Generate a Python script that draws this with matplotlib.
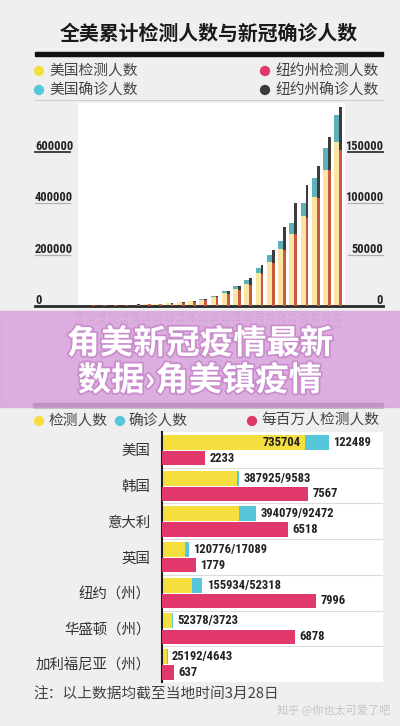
import os
import matplotlib
matplotlib.use('Agg')
import matplotlib.pyplot as plt
from matplotlib import font_manager
from matplotlib.font_manager import FontProperties
from matplotlib.textpath import TextPath
from matplotlib.patches import Rectangle
import matplotlib.patheffects as pe

plt.rcParams['font.family'] = ['Noto Sans CJK SC', 'DejaVu Sans']

# top chart: cumulative tests / confirmed, US (left axis) and New York (right axis)
dates = ['3.4', '3.5', '3.6', '3.7', '3.8', '3.9', '3.10', '3.11', '3.12', '3.13', '3.14', '3.15',
         '3.16', '3.17', '3.18', '3.19', '3.20', '3.21', '3.22', '3.23', '3.24', '3.25', '3.26', '3.27']
us_tests = [1600, 2000, 2400, 3100, 3900, 4700, 5900, 7800, 11000, 13700, 17600, 23500,
            35000, 51000, 67000, 86000, 129000, 173000, 224000, 282000, 349000, 424000, 529000, 639000]
us_confirmed = [200, 250, 300, 400, 500, 600, 800, 1000, 1200, 1500, 1900, 2400,
                3900, 5900, 9800, 15700, 19600, 27000, 31000, 43000, 51000, 74500, 86000, 106000]
ny_tests = [400, 500, 600, 800, 1000, 1200, 1500, 1800, 2400, 2900, 3900, 5400,
            8300, 11800, 15700, 20600, 31400, 42000, 55000, 70000, 86000, 105000, 132000, 152000]
ny_confirmed = [100, 100, 150, 200, 250, 300, 400, 500, 600, 800, 1000, 1200,
                1500, 2400, 3900, 6900, 8800, 12700, 21500, 30000, 32000, 31000, 33000, 42000]
left_ticks = [0, 200000, 400000, 600000]
right_ticks = [0, 50000, 100000, 150000]

# bottom chart: by region
regions = ['美国', '韩国', '意大利', '英国', '纽约（州）', '华盛顿（州）', '加利福尼亚（州）']
tests = [735704, 387925, 394079, 120776, 155934, 52378, 25192]
confirmed = [122489, 9583, 92472, 17089, 52318, 3723, 4643]
per_million = [2233, 7567, 6518, 1779, 7996, 6878, 637]

W, H = 400, 726
BG = '#efefef'
YEL_T, TEAL_T, RED_T, DARK_T = '#fbe5a4', '#5eb0ba', '#c85a42', '#3c3c3c'
YEL, TEAL, PINK, DARK = '#f5df3e', '#56c6da', '#e0386a', '#3a3a3a'


def find_narrow_bold():
    files = [f.fname for f in font_manager.fontManager.ttflist]
    prefs = ['liberationsansnarrow-bold.', 'robotocondensed-bold.', 'dejavusanscondensed-bold.',
             'opensans_condensed-bold.', 'opensanscondensed-bold.', 'opensans-condensedbold.']
    for p in prefs:
        for fn in files:
            if os.path.basename(fn).lower().startswith(p):
                return fn
    for fn in files:
        b = os.path.basename(fn).lower()
        if ('narrow' in b or 'condensed' in b) and 'bold' in b and 'italic' not in b and 'oblique' not in b:
            return fn
    return None


_nf = find_narrow_bold()


def num_font(px_per_digit):
    # size the number font so a digit is about px_per_digit wide
    if _nf:
        base = FontProperties(fname=_nf, size=10)
    else:
        base = FontProperties(family='Roboto', weight='bold', size=10)
    w = TextPath((0, 0), '0000000000', prop=base).get_extents().width / 10
    size = min(10 * px_per_digit * 0.72 / w, 10.5)
    p = base.copy()
    p.set_size(size)
    return p


NUM_TOP = num_font(6.2)
NUM_BOT = num_font(6.3)


def rect(x0, y0, x1, y1):
    return [x0 / W, 1 - y1 / H, (x1 - x0) / W, (y1 - y0) / H]


fig = plt.figure(figsize=(4, 7.26), dpi=100, facecolor=BG)

# background layer in pixel coordinates
bg = fig.add_axes([0, 0, 1, 1], zorder=0)
bg.set_xlim(0, W)
bg.set_ylim(H, 0)
bg.axis('off')
bg.set_facecolor(BG)

bg.text(209, 33, '全美累计检测人数与新冠确诊人数', ha='center', va='center',
        fontsize=14.3, fontweight='bold', color='#1a1a1a')
bg.add_patch(Rectangle((35, 52), 348, 4, color='#111111'))
bg.plot([35, 383], [100, 100], color='#cfcfcf', lw=0.8)

for x, y, c, t in [(39, 71, YEL, '美国检测人数'), (39, 90, TEAL, '美国确诊人数'),
                   (265, 71, PINK, '纽约州检测人数'), (265, 90, DARK, '纽约州确诊人数')]:
    bg.scatter([x], [y], s=55, color=c, edgecolors='none')
    bg.text(x + 10, y, t, ha='left', va='center', fontsize=10.6, color='#444444')

# top chart
ax = fig.add_axes(rect(78, 103, 345, 306), zorder=1)
ax.set_facecolor('white')
x = list(range(len(dates)))
xr = [i + 0.27 for i in x]
ax.bar(x, us_tests, width=0.62, color=YEL_T, zorder=2)
ax.bar(x, us_confirmed, bottom=us_tests, width=0.62, color=TEAL_T, zorder=2)
ax.set_xlim(-0.09, 23.64)
ax.set_ylim(0, 790900)
ax.set_xticks([i + 0.12 for i in x])
ax.set_xticklabels(dates, rotation=90, fontsize=6, color='#8a8a8a', va='top',
                   family='DejaVu Sans')
ax.tick_params(axis='x', length=0, pad=3)
ax.set_yticks([])
for s in ax.spines.values():
    s.set_visible(False)

ax2 = ax.twinx()
ax2.bar(xr, ny_tests, width=0.24, color=RED_T, zorder=3)
ax2.bar(xr, ny_confirmed, bottom=ny_tests, width=0.24, color=DARK_T, zorder=3)
ax2.set_ylim(0, 197700)
ax2.set_yticks([])
for s in ax2.spines.values():
    s.set_visible(False)


def fx(px):
    return (px - 78) / 267


tr = ax.get_yaxis_transform()
for v in left_ticks[1:]:
    dark = v == left_ticks[-1]
    ax.plot([fx(35), fx(70)], [v, v], transform=tr, clip_on=False,
            color='#333333' if dark else '#b0b0b0', lw=1.3 if dark else 0.9)
    ax.text(fx(35), v + 8000, f'{v}', transform=tr, ha='left', va='baseline',
            fontproperties=NUM_TOP, color='#222222')
ax.text(fx(35), 8000, '0', transform=tr, ha='left', va='baseline',
        fontproperties=NUM_TOP, color='#222222')
tr2 = ax2.get_yaxis_transform()
for v in right_ticks[1:]:
    dark = v == right_ticks[-1]
    ax2.plot([fx(348), fx(383)], [v, v], transform=tr2, clip_on=False,
             color='#333333' if dark else '#b0b0b0', lw=1.3 if dark else 0.9)
    ax2.text(fx(383), v + 2000, f'{v}', transform=tr2, ha='right', va='baseline',
             fontproperties=NUM_TOP, color='#222222')
ax2.text(fx(383), 2000, '0', transform=tr2, ha='right', va='baseline',
         fontproperties=NUM_TOP, color='#222222')
ax.plot([fx(35), fx(383)], [0, 0], transform=tr, clip_on=False, color='#2a2a2a', lw=2, zorder=5)

# bottom chart
bg.add_patch(Rectangle((33, 403), 350, 4, color='#111111'))
for x0, c, t in [(39, YEL, '检测人数'), (120, TEAL, '确诊人数'), (252, PINK, '每百万人检测人数')]:
    bg.scatter([x0], [421], s=55, color=c, edgecolors='none')
    bg.text(x0 + 9, 421, t, ha='left', va='center', fontsize=10.6, color='#444444')

ax3 = fig.add_axes(rect(162, 432, 383, 682), zorder=1)
ax3.set_facecolor('white')
rows = list(range(len(regions)))
ax3.barh([r - 0.21 for r in rows], tests, height=0.42, color=YEL)
ax3.barh([r - 0.21 for r in rows], confirmed, left=tests, height=0.42, color=TEAL)
ax3.set_xlim(0, 221 * 5150)
ax3.set_ylim(6.5, -0.5)
ax3.set_xticks([])
ax3.set_yticks(rows)
ax3.set_yticklabels(regions, fontsize=10.4, color='#333333')
ax3.tick_params(axis='y', length=0, pad=8.5)
for k, s in ax3.spines.items():
    s.set_visible(k == 'left')
ax3.spines['left'].set_color('#1e1e1e')
ax3.spines['left'].set_linewidth(1.5)
ax3.spines['left'].set_zorder(6)
for r in rows[:-1]:
    ax3.axhline(r + 0.5, color='#dcdcdc', lw=0.8, zorder=0)

num_kw = dict(fontproperties=NUM_BOT, color='#222222', va='center')
for r in rows:
    end = tests[r] + confirmed[r]
    if r == 0:
        ax3.annotate(f'{tests[r]}', (tests[r], r - 0.21), xytext=(-3, 0),
                     textcoords='offset points', ha='right', **num_kw)
        ax3.annotate(f'{confirmed[r]}', (end, r - 0.21), xytext=(3, 0),
                     textcoords='offset points', ha='left', **num_kw)
    else:
        ax3.annotate(f'{tests[r]}/{confirmed[r]}', (end, r - 0.21), xytext=(3, 0),
                     textcoords='offset points', ha='left', **num_kw)

ax4 = ax3.twiny()
ax4.barh([r + 0.23 for r in rows], per_million, height=0.40, color=PINK)
ax4.set_xlim(0, 221 * 51.8)
ax4.set_ylim(6.5, -0.5)
ax4.set_xticks([])
for s in ax4.spines.values():
    s.set_visible(False)
for r in rows:
    ax4.annotate(f'{per_million[r]}', (per_million[r], r + 0.23), xytext=(3, 0),
                 textcoords='offset points', ha='left', **num_kw)

bg.text(33, 695, '注：以上数据均截至当地时间3月28日', ha='left', va='center',
        fontsize=10.6, color='#444444')
bg.text(390, 710, '知乎 @你也太可爱了吧', ha='right', va='center', fontsize=8, color='#c4c4c4')

# banner overlay
top = fig.add_axes([0, 0, 1, 1], zorder=10)
top.set_xlim(0, W)
top.set_ylim(H, 0)
top.axis('off')
top.patch.set_alpha(0)
top.add_patch(Rectangle((0, 311), W, 96, color='#daa4dd', alpha=0.88))
shadow = [pe.withStroke(linewidth=2.5, foreground='#c98ccc')]
top.text(200, 344, '角美新冠疫情最新', ha='center', va='center', fontsize=24,
         fontweight='bold', color='white', path_effects=shadow)
top.text(200, 381, '数据›角美镇疫情', ha='center', va='center', fontsize=24,
         fontweight='bold', color='white', path_effects=shadow)

fig.savefig('out.png', dpi=100, facecolor=BG)
